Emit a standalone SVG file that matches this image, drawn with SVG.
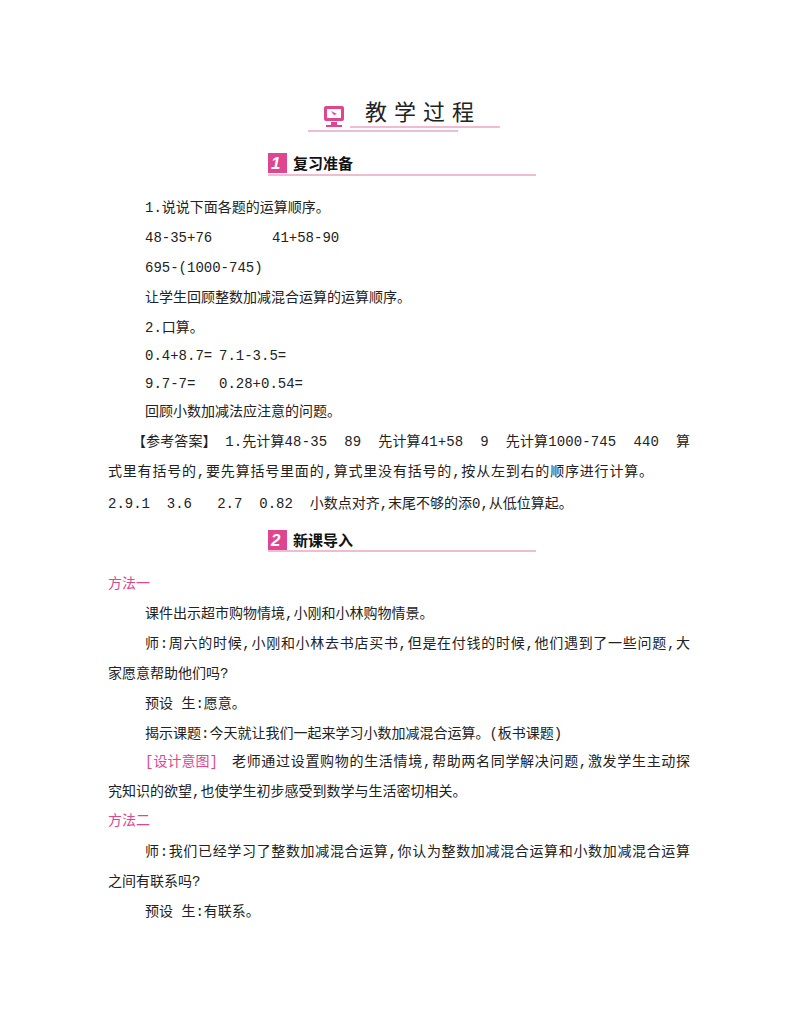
<svg xmlns="http://www.w3.org/2000/svg" width="800" height="1028" viewBox="0 0 800 1028">
<style>
text{font-family:"Liberation Mono","Noto Sans CJK SC",monospace;font-size:14px;fill:#222;white-space:pre}
.p{fill:#e0458f}
.h{font-family:"Noto Sans CJK SC",sans-serif;font-weight:bold;font-size:15px;fill:#111}
.ln{stroke:#e07aa8;stroke-width:1.2}
</style>
<rect width="800" height="1028" fill="#fff"/>
<g id="header">
<rect x="324" y="106" width="20" height="15" rx="2" fill="#e0458f"/>
<rect x="327" y="109" width="14" height="9" fill="#fff"/>
<path d="M331 111 l6 3 -3 1 z" fill="#e0458f"/>
<rect x="331" y="122" width="6" height="3" fill="#e0458f"/>
<rect x="326" y="125" width="16" height="2" fill="#e0458f"/>
<text x="365" y="120" style="font-size:22px;letter-spacing:7px;font-family:'Noto Sans CJK SC',sans-serif">教学过程</text>
<line class="ln" x1="350" y1="127" x2="500" y2="127"/>
<line class="ln" x1="308" y1="131" x2="458" y2="131"/>
</g>
<g id="sec1">
<rect x="268" y="153" width="19" height="20" fill="#e0458f"/>
<text x="271" y="169" style="fill:#fff;font-style:italic;font-weight:bold;font-size:17px;font-family:'Liberation Sans',sans-serif">1</text>
<text x="293" y="169" class="h">复习准备</text>
<line class="ln" x1="268" y1="175" x2="536" y2="175"/>
</g>
<g id="body1">
<text x="145" y="212">1.说说下面各题的运算顺序。</text>
<text x="145" y="242">48-35+76</text><text x="272" y="242">41+58-90</text>
<text x="145" y="272">695-(1000-745)</text>
<text x="145" y="302">让学生回顾整数加减混合运算的运算顺序。</text>
<text x="145" y="332">2.口算。</text>
<text x="145" y="360">0.4+8.7=</text><text x="219" y="360">7.1-3.5=</text>
<text x="145" y="388">9.7-7=</text><text x="219" y="388">0.28+0.54=</text>
<text x="145" y="416">回顾小数加减法应注意的问题。</text>
<text x="132" y="446" textLength="558" lengthAdjust="spacing">【参考答案】 1.先计算48-35  89  先计算41+58  9  先计算1000-745  440  算</text>
<text x="108" y="476" textLength="545" lengthAdjust="spacing">式里有括号的,要先算括号里面的,算式里没有括号的,按从左到右的顺序进行计算。</text>
<text x="108" y="508">2.9.1  3.6   2.7  0.82  小数点对齐,末尾不够的添0,从低位算起。</text>
</g>
<g id="sec2">
<rect x="268" y="530" width="19" height="20" fill="#e0458f"/>
<text x="271" y="546" style="fill:#fff;font-style:italic;font-weight:bold;font-size:17px;font-family:'Liberation Sans',sans-serif">2</text>
<text x="293" y="546" class="h">新课导入</text>
<line class="ln" x1="268" y1="551" x2="536" y2="551"/>
</g>
<g id="body2">
<text x="108" y="588" class="p">方法一</text>
<text x="145" y="618">课件出示超市购物情境,小刚和小林购物情景。</text>
<text x="145" y="648" textLength="545" lengthAdjust="spacing">师:周六的时候,小刚和小林去书店买书,但是在付钱的时候,他们遇到了一些问题,大</text>
<text x="108" y="678">家愿意帮助他们吗?</text>
<text x="145" y="708">预设 生:愿意。</text>
<text x="145" y="738">揭示课题:今天就让我们一起来学习小数加减混合运算。(板书课题)</text>
<text x="145" y="766" class="p">[设计意图]</text>
<text x="232" y="766" textLength="458" lengthAdjust="spacing">老师通过设置购物的生活情境,帮助两名同学解决问题,激发学生主动探</text>
<text x="108" y="796">究知识的欲望,也使学生初步感受到数学与生活密切相关。</text>
<text x="108" y="825" class="p">方法二</text>
<text x="145" y="856" textLength="545" lengthAdjust="spacing">师:我们已经学习了整数加减混合运算,你认为整数加减混合运算和小数加减混合运算</text>
<text x="108" y="886">之间有联系吗?</text>
<text x="145" y="916">预设 生:有联系。</text>
</g>
</svg>
